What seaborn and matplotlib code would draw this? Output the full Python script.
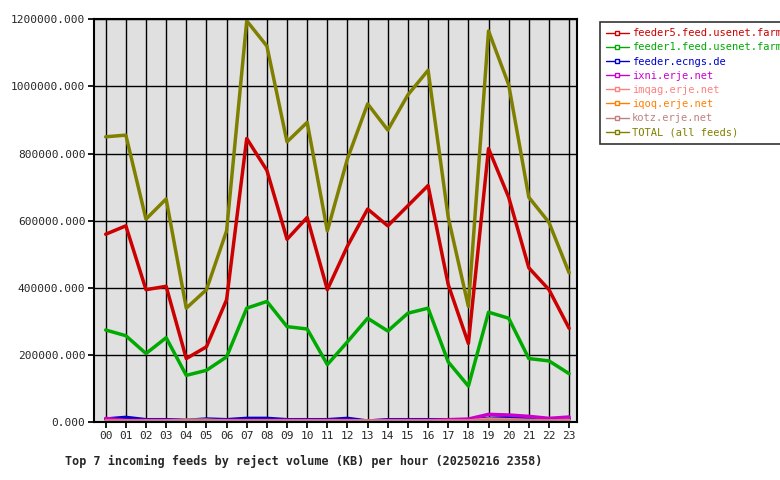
import numpy as np
import pandas as pd
import matplotlib.pyplot as plt
import seaborn as sns

sns.set_theme(style='white')
plt.rcParams['font.family'] = ['DejaVu Sans Mono']

hours = ['%02d' % h for h in range(24)]

feeder5 = [560, 585, 395, 405, 190, 225, 365, 845, 750, 545, 610, 395,
           525, 635, 585, 645, 705, 410, 235, 815, 670, 460, 395, 280]
feeder1 = [275, 258, 205, 252, 140, 155, 195, 340, 360, 285, 278, 172,
           240, 310, 272, 325, 340, 180, 108, 328, 310, 190, 183, 145]
ecngs = [10, 15, 8, 8, 6, 10, 8, 12, 12, 8, 8, 8,
         12, 4, 8, 8, 8, 8, 8, 12, 14, 12, 10, 10]
ixni = [12, 6, 6, 6, 6, 6, 6, 6, 6, 6, 6, 6,
        6, 4, 6, 6, 6, 8, 10, 24, 22, 18, 12, 16]
imqag = [4, 4, 4, 4, 6, 6, 4, 4, 4, 4, 4, 4,
         4, 4, 4, 4, 4, 4, 4, 10, 8, 6, 4, 6]
iqoq = [2, 2, 2, 2, 2, 2, 2, 2, 2, 2, 2, 2,
        2, 2, 2, 2, 2, 2, 2, 3, 3, 2, 2, 2]
kotz = [3, 3, 3, 3, 6, 6, 3, 3, 3, 3, 3, 3,
        3, 3, 3, 3, 3, 3, 3, 6, 6, 5, 4, 4]
total = [850, 855, 605, 665, 340, 395, 570, 1195, 1120, 835, 893, 570,
         785, 948, 870, 975, 1048, 610, 345, 1165, 1005, 670, 595, 445]

series = [
    ('feeder5.feed.usenet.farm', feeder5, '#cc0000'),
    ('feeder1.feed.usenet.farm', feeder1, '#00aa00'),
    ('feeder.ecngs.de', ecngs, '#0000cc'),
    ('ixni.erje.net', ixni, '#cc00cc'),
    ('imqag.erje.net', imqag, '#ff8080'),
    ('iqoq.erje.net', iqoq, '#ff8000'),
    ('kotz.erje.net', kotz, '#c08080'),
    ('TOTAL (all feeds)', total, '#808000'),
]

rows = []
for name, vals, _ in series:
    for i, v in enumerate(vals):
        rows.append({'hour': i, 'value': v * 1000, 'feed': name})
df = pd.DataFrame(rows)
palette = {name: c for name, _, c in series}

fig = plt.figure(figsize=(7.8, 4.8), dpi=100)
ax = fig.add_axes([0.12, 0.12, 0.62, 0.84])
ax.set_facecolor('#e0e0e0')
sns.lineplot(data=df, x='hour', y='value', hue='feed', palette=palette,
             hue_order=[s[0] for s in series], linewidth=2.5, ax=ax,
             legend=False)
ax.set_xlim(-0.6, 23.4)
ax.set_ylim(0, 1200000)
ax.set_xticks(range(24))
ax.set_xticklabels(hours, fontsize=8)
ax.set_yticks(np.arange(0, 1200001, 200000))
ax.set_yticklabels(['%d.000' % v if v else '0.000' for v in np.arange(0, 1200001, 200000)], fontsize=8)
ax.grid(True, color='black', linewidth=1)
ax.set_axisbelow(True)
for s in ax.spines.values():
    s.set_color('black')
    s.set_linewidth(1.5)
ax.tick_params(length=4, color='black', left=True, bottom=True, pad=2)
ax.set_xlabel('Top 7 incoming feeds by reject volume (KB) per hour (20250216 2358)',
              fontsize=8.5, fontweight='bold')
ax.xaxis.set_label_coords(0.435, -0.08)
ax.set_ylabel('')

handles = [plt.Line2D([], [], color=c, marker='s', markersize=3,
                      markerfacecolor='white', linewidth=1) for _, _, c in series]
leg = fig.legend(handles, [s[0] for s in series], loc='upper left',
                 bbox_to_anchor=(0.762, 0.965), fontsize=7.5, frameon=True,
                 fancybox=False, edgecolor='black', handlelength=2.2,
                 borderpad=0.6, labelspacing=0.4, handletextpad=0.3)
leg.get_frame().set_linewidth(1.2)
for t, (_, _, c) in zip(leg.get_texts(), series):
    t.set_color(c)

fig.savefig('out.png', dpi=100)
